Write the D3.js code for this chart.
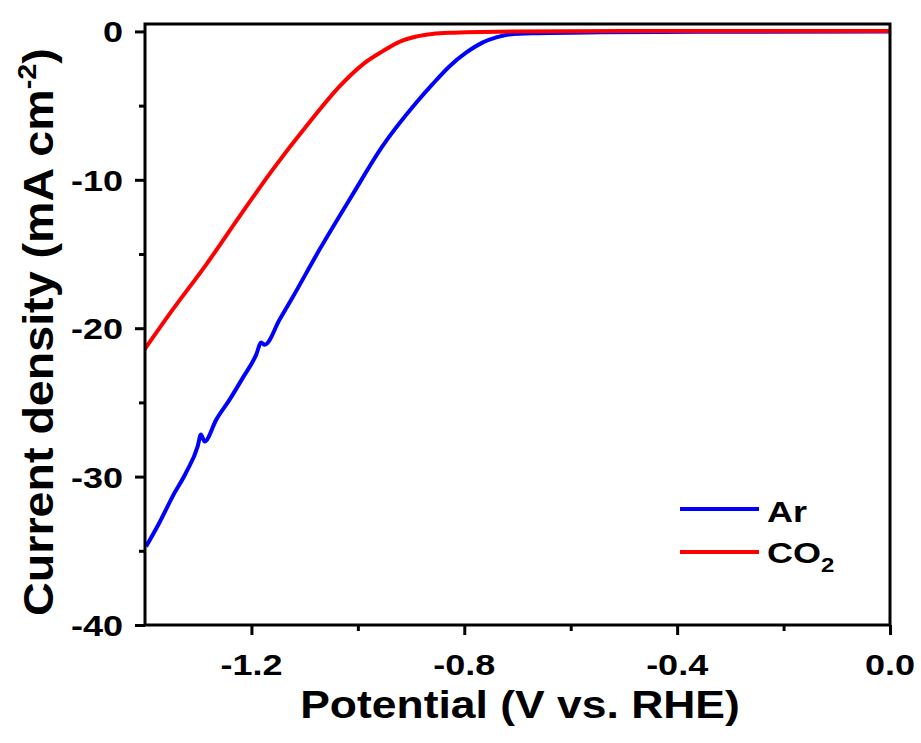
<!DOCTYPE html>
<html>
<head>
<meta charset="utf-8">
<script src="https://cdn.jsdelivr.net/npm/d3@7"></script>
<style>
  html, body { margin: 0; padding: 0; background: #fff; }
  svg { display: block; }
  text { font-family: Arial, "Liberation Sans", sans-serif; font-weight: bold; fill: #000; }
</style>
</head>
<body>
<svg id="chart" width="921" height="743"></svg>
<script>
// ---- data ----
const seriesNames = ["Ar", "CO2"];
const seriesColors = ["#0000ff", "#ff0000"];

const arPotential = [-1.398, -1.373, -1.348, -1.323, -1.301, -1.295, -1.288, -1.266, -1.241, -1.216,
  -1.191, -1.182, -1.175, -1.147, -1.125, -1.072, -1.010, -0.954, -0.890, -0.860, -0.828,
  -0.796, -0.765, -0.740, -0.715, -0.671, -0.545, -0.357, 0.0];
const arCurrent = [-34.71, -33.11, -31.33, -29.74, -27.96, -27.17, -27.63, -26.16, -24.81, -23.33,
  -21.78, -20.97, -21.11, -19.42, -18.07, -14.70, -11.00, -7.75, -4.79, -3.57, -2.36,
  -1.42, -0.74, -0.40, -0.20, -0.12, -0.06, -0.03, 0.0];

const co2Potential = [-1.401, -1.348, -1.285, -1.222, -1.160, -1.097, -1.034, -0.990, -0.953,
  -0.922, -0.890, -0.860, -0.828, -0.715, -0.5, -0.2, 0.0];
const co2Current = [-21.44, -18.75, -15.71, -12.45, -9.31, -6.39, -3.69, -2.20, -1.33,
  -0.70, -0.34, -0.17, -0.09, 0.0, 0.02, 0.03, 0.03];

const xMajorTicks = [-1.2, -0.8, -0.4, 0.0];
const xMinorTicks = [-1.0, -0.6, -0.2];
const yMajorTicks = [0, -10, -20, -30, -40];
const yMinorTicks = [-5, -15, -25, -35];

const xTitle = "Potential (V vs. RHE)";
const yTitleMain = "Current density (mA cm";
const yTitleSup = "-2";

// ---- layout ----
const svg = d3.select("#chart");
const L = 145, R = 890, T = 24, B = 625;
const x = d3.scaleLinear().domain([-1.4, 0]).range([L, R]);
const y = d3.scaleLinear().domain([-40, 0.5]).range([B, T]);

const SX = 1.2; // horizontal stretch of glyphs

// ---- ticks via d3 axes ----
const axX = svg.append("g").attr("transform", `translate(0,${B})`)
  .call(d3.axisBottom(x).tickValues(xMajorTicks).tickSize(10).tickFormat(""));
const axXm = svg.append("g").attr("transform", `translate(0,${B})`)
  .call(d3.axisBottom(x).tickValues(xMinorTicks).tickSize(6).tickFormat(""));
const axY = svg.append("g").attr("transform", `translate(${L},0)`)
  .call(d3.axisLeft(y).tickValues(yMajorTicks).tickSize(10).tickFormat(""));
const axYm = svg.append("g").attr("transform", `translate(${L},0)`)
  .call(d3.axisLeft(y).tickValues(yMinorTicks).tickSize(6).tickFormat(""));
[axX, axXm, axY, axYm].forEach(a => {
  a.select(".domain").remove();
  a.selectAll("line").attr("stroke", "#000").attr("stroke-width", 3);
});

// ---- curves ----
const lineAr = d3.line().x(d => x(d[0])).y(d => y(d[1])).curve(d3.curveMonotoneX);
const lineCo2 = d3.line().x(d => x(d[0])).y(d => y(d[1])).curve(d3.curveCatmullRom.alpha(0.5));
const arData = arPotential.map((p, i) => [p, arCurrent[i]]);
const co2Data = co2Potential.map((p, i) => [p, co2Current[i]]);

svg.append("defs").append("clipPath").attr("id", "clip")
  .append("rect").attr("x", L).attr("y", T).attr("width", R - L).attr("height", B - T);

const plot = svg.append("g").attr("clip-path", "url(#clip)");
plot.append("path").datum(arData).attr("d", lineAr)
  .attr("fill", "none").attr("stroke", seriesColors[0]).attr("stroke-width", 4)
  .attr("stroke-linejoin", "round");
plot.append("path").datum(co2Data).attr("d", lineCo2)
  .attr("fill", "none").attr("stroke", seriesColors[1]).attr("stroke-width", 4)
  .attr("stroke-linejoin", "round");

// ---- frame ----
svg.append("rect").attr("x", L).attr("y", T).attr("width", R - L).attr("height", B - T)
  .attr("fill", "none").attr("stroke", "#000").attr("stroke-width", 3);

// ---- tick labels ----
function stretched(px, py, sx, anchor, size, txt) {
  const g = svg.append("g").attr("transform", `translate(${px},${py}) scale(${sx},1)`);
  return g.append("text").attr("text-anchor", anchor).attr("font-size", size).text(txt);
}
xMajorTicks.forEach(v => stretched(x(v), 675, SX, "middle", 30, v.toFixed(1)));
yMajorTicks.forEach(v => stretched(123, y(v) + 11, SX, "end", 30, String(v)));

// ---- axis titles ----
stretched(520, 718, 1.17, "middle", 38, xTitle);

const yt = svg.append("g").attr("transform", `translate(53,332) rotate(-90) scale(1.11,1)`)
  .append("text").attr("text-anchor", "middle").attr("font-size", 42);
yt.append("tspan").text(yTitleMain);
yt.append("tspan").attr("font-size", 26).attr("dy", -17).text(yTitleSup);
yt.append("tspan").attr("dy", 17).text(")");

// ---- legend ----
const legY = [509, 552];
seriesNames.forEach((name, i) => {
  svg.append("line").attr("x1", 680).attr("x2", 759).attr("y1", legY[i]).attr("y2", legY[i])
    .attr("stroke", seriesColors[i]).attr("stroke-width", 4);
});
stretched(767, 522, SX, "start", 30, "Ar");
const co2t = stretched(767, 563, SX, "start", 30, "CO");
co2t.append("tspan").attr("font-size", 20).attr("dy", 9).text("2");
</script>
</body>
</html>
